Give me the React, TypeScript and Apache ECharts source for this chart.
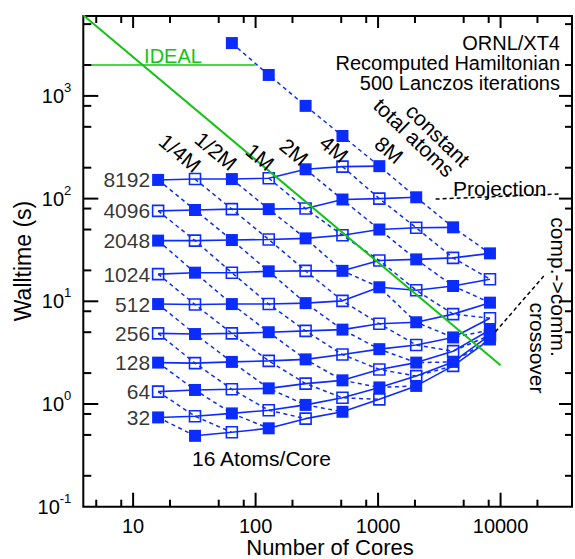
import { useEffect, useRef } from 'react';
import * as echarts from 'echarts';

const FONT = '"Liberation Sans", Arial, Helvetica, sans-serif';
const BLUE = '#0b2cff';
const GREEN = '#14c414';

// Number of cores (x) and atoms per core for each constant-atoms/core row
const cores = [16, 32, 64, 128, 256, 512, 1024, 2048, 4096, 8192];
const rowAtoms = [8192, 4096, 2048, 1024, 512, 256, 128, 64, 32, 16];
const rowFirstCore = [16, 16, 16, 16, 16, 16, 16, 16, 16, 32];

// Walltime (s) per row, starting at rowFirstCore
const t8192 = [152, 155, 155, 158, 193, 205, 207];
const t4096 = [76, 77.5, 79, 79, 80, 98, 100, 103];
const t2048 = [39, 39, 39.5, 40, 41, 44, 50, 52, 52.5];
const t1024 = [18.4, 19, 19, 19.6, 19.8, 19.8, 25, 25.6, 26.5, 29.3];
const t512 = [9.4, 9.3, 9.4, 9.4, 9.6, 10.1, 13.7, 12.8, 14.1, 16.4];
const t256 = [4.87, 4.8, 4.87, 5.0, 5.15, 5.3, 6.05, 6.25, 7.5, 9.7];
const t128 = [2.53, 2.5, 2.57, 2.63, 2.72, 3.03, 3.42, 3.76, 4.45, 6.85];
const t64 = [1.32, 1.37, 1.39, 1.42, 1.58, 1.7, 2.17, 2.53, 3.27, 5.25];
const t32 = [0.74, 0.76, 0.81, 0.87, 0.98, 1.15, 1.45, 1.87, 2.57, 4.68];
const t16 = [0.49, 0.53, 0.58, 0.72, 0.84, 1.11, 1.5, 2.35, 4.25];
const rowTimes = [t8192, t4096, t2048, t1024, t512, t256, t128, t64, t32, t16];

// 8M constant-total-atoms extension (larger atoms/core)
const extCores = [64, 128, 256, 512];
const extTimes = [3270, 1600, 800, 407];
const extTotalAtoms = 8388608;

// Ideal scaling line and annotation lines
const idealX = [3.92, 10000];
const idealY = [6100, 2.39];
const idealRefX = [3.92, 100];
const idealRefY = [2000, 2000];
const projX = [2950, 30800];
const projY = [99, 111];
const crossX = [9080, 22500];
const crossY = [5.05, 17.6];

// Axis extents and ticks
const xMin = 3.92;
const xMax = 38300;
const yMin = 0.1;
const yMax = 6000;
const xMajor = [10, 100, 1000, 10000];
const xMinor = [5, 8, 20, 50, 80, 200, 500, 800, 2000, 5000, 8000, 20000];
const yMajor = [1, 10, 100, 1000];
const yMinor = [0.2, 0.5, 0.8, 2, 5, 8, 20, 50, 80, 200, 500, 800, 2000, 5000];

const totalLabels = ['1/4M', '1/2M', '1M', '2M', '4M', '8M'];
const infoLines = ['ORNL/XT4', 'Recomputed Hamiltonian', '500 Lanczos iterations'];

const isPow10 = (v: number) => {
  const l = Math.log10(v);
  return Math.abs(l - Math.round(l)) < 1e-6;
};

export default function App() {
  const ref = useRef<HTMLDivElement>(null);
  useEffect(() => {
    const chart = echarts.init(ref.current!, null, { renderer: 'svg' });

    const rows = rowAtoms.map((atoms, i) => {
      const s = cores.indexOf(rowFirstCore[i]);
      return { atoms, pts: rowTimes[i].map((t, j) => [cores[s + j], t]) };
    });

    const diag = new Map<number, number[][]>();
    const addPt = (k: number, p: number[]) => {
      if (!diag.has(k)) diag.set(k, []);
      diag.get(k)!.push(p);
    };
    rows.forEach((r) =>
      r.pts.forEach(([c, t]) => addPt(Math.round(Math.log2(r.atoms * c)), [c, t]))
    );
    extCores.forEach((c, i) => addPt(Math.round(Math.log2(extTotalAtoms)), [c, extTimes[i]]));

    const rowSeries = rows.map((r) => ({
      type: 'line',
      data: r.pts,
      symbol: 'none',
      silent: true,
      z: 2,
      lineStyle: { color: BLUE, width: 1.6 },
    }));

    const diagSeries: any[] = [];
    Array.from(diag.keys())
      .sort((a, b) => a - b)
      .forEach((k) => {
        const pts = diag.get(k)!.slice().sort((a, b) => a[0] - b[0]);
        const filled = k % 2 === 1;
        diagSeries.push({
          type: 'line',
          data: pts,
          symbol: 'rect',
          symbolSize: filled ? 12 : 11,
          showSymbol: true,
          silent: true,
          z: 3,
          lineStyle: { color: BLUE, width: 1.5, type: [4, 3.5] },
          itemStyle: filled
            ? { color: BLUE, borderWidth: 0 }
            : { color: 'rgba(255,255,255,0)', borderColor: BLUE, borderWidth: 1.6 },
        });
      });

    const labelSeries = {
      type: 'scatter',
      silent: true,
      z: 4,
      symbol: 'rect',
      symbolSize: 12,
      itemStyle: { color: 'rgba(0,0,0,0)' },
      data: rows
        .filter((r) => r.pts[0][0] === 16)
        .map((r) => [r.pts[0][0], r.pts[0][1], r.atoms]),
      label: {
        show: true,
        position: 'left',
        distance: 2,
        formatter: (p: any) => String(p.value[2]),
        color: '#000',
        fontSize: 21,
        fontFamily: FONT,
      },
    };

    const tickStyle = { stroke: '#000', lineWidth: 2 };
    const xTickSeries = {
      type: 'custom',
      silent: true,
      z: 10,
      data: [...xMajor.map((v) => [v, 14]), ...xMinor.map((v) => [v, 7])],
      renderItem: (params: any, api: any) => {
        const cs = params.coordSys;
        const px = api.coord([api.value(0), 1])[0];
        const len = api.value(1);
        const bottom = cs.y + cs.height;
        return {
          type: 'group',
          children: [
            { type: 'line', shape: { x1: px, y1: bottom, x2: px, y2: bottom - len }, style: tickStyle },
            { type: 'line', shape: { x1: px, y1: cs.y, x2: px, y2: cs.y + (len > 10 ? 12 : 7) }, style: tickStyle },
          ],
        };
      },
    };
    const yTickSeries = {
      type: 'custom',
      silent: true,
      z: 10,
      encode: { x: 0, y: 1 },
      data: [...yMajor.map((v) => [10, v, 15]), ...yMinor.map((v) => [10, v, 8])],
      renderItem: (params: any, api: any) => {
        const cs = params.coordSys;
        const py = api.coord([10, api.value(1)])[1];
        const len = api.value(2);
        const right = cs.x + cs.width;
        return {
          type: 'group',
          children: [
            { type: 'line', shape: { x1: cs.x, y1: py, x2: cs.x + len, y2: py }, style: tickStyle },
            { type: 'line', shape: { x1: right, y1: py, x2: right - (len > 10 ? 13 : 7), y2: py }, style: tickStyle },
          ],
        };
      },
    };

    const simpleLine = (xs: number[], ys: number[], color: string, width: number, dashed: boolean, z: number) => ({
      type: 'line',
      data: xs.map((x, i) => [x, ys[i]]),
      symbol: 'none',
      silent: true,
      z,
      lineStyle: { color, width, type: dashed ? [4, 3] : 'solid' },
    });

    const txt = (text: string, x: number, y: number, opts: any = {}) => ({
      type: 'text',
      x,
      y,
      rotation: opts.rotation || 0,
      z: 50,
      silent: true,
      style: {
        text,
        fill: opts.fill || '#000',
        font: `${opts.size || 21}px ${FONT}`,
        align: opts.align || 'center',
        textAlign: opts.align || 'center',
        verticalAlign: 'middle',
        textVerticalAlign: 'middle',
      },
    });

    const deg = Math.PI / 180;
    const diagLabelPos = [
      [180, 153],
      [216, 151],
      [260, 157],
      [294, 152],
      [334, 149],
      [389, 150],
    ];

    const graphics: any[] = [
      txt('IDEAL', 173, 55.5, { fill: GREEN, size: 20 }),
      ...infoLines.map((t, i) => txt(t, 560, 42.5 + i * 20, { align: 'right', size: 20 })),
      txt('constant', 438, 135, { rotation: -44 * deg }),
      txt('total atoms', 414, 137.5, { rotation: -44 * deg }),
      txt('Projection', 453, 188, { align: 'left' }),
      txt('comp.->comm.', 558, 287, { rotation: -90 * deg }),
      txt('crossover', 537, 348, { rotation: -90 * deg }),
      txt('16 Atoms/Core', 192, 458, { align: 'left' }),
      txt('Walltime (s)', 23, 261, { rotation: 90 * deg, size: 23 }),
      txt('Number of Cores', 330, 547.5, { size: 22 }),
      ...totalLabels.map((t, i) => txt(t, diagLabelPos[i][0], diagLabelPos[i][1], { rotation: -40 * deg })),
    ];

    chart.setOption({
      animation: false,
      textStyle: { fontFamily: FONT },
      grid: {
        left: 83.3,
        top: 16,
        width: 490,
        height: 490.7,
        show: true,
        borderColor: '#000',
        borderWidth: 2,
        backgroundColor: 'transparent',
        containLabel: false,
      },
      xAxis: {
        type: 'log',
        logBase: 10,
        min: xMin,
        max: xMax,
        axisLine: { show: false },
        axisTick: { show: false },
        splitLine: { show: false },
        axisLabel: {
          margin: 9,
          color: '#000',
          fontSize: 20,
          fontFamily: FONT,
          formatter: (v: number) => (isPow10(v) ? String(Math.round(v)) : ''),
        },
      },
      yAxis: {
        type: 'log',
        logBase: 10,
        min: yMin,
        max: yMax,
        axisLine: { show: false },
        axisTick: { show: false },
        splitLine: { show: false },
        axisLabel: {
          margin: 12,
          color: '#000',
          formatter: (v: number) => {
            if (!isPow10(v)) return '';
            return `{b|10}{s|${Math.round(Math.log10(v))}}`;
          },
          rich: {
            b: { fontSize: 20, lineHeight: 30, fontFamily: FONT, color: '#000' },
            s: { fontSize: 13, lineHeight: 14, verticalAlign: 'top', fontFamily: FONT, color: '#000' },
          },
        },
      },
      series: [
        ...rowSeries,
        ...diagSeries,
        labelSeries,
        simpleLine(idealX, idealY, GREEN, 2, false, 6),
        simpleLine(idealRefX, idealRefY, GREEN, 1.6, false, 6),
        simpleLine(projX, projY, '#000', 1.5, true, 6),
        simpleLine(crossX, crossY, '#000', 1.5, true, 6),
        xTickSeries,
        yTickSeries,
      ],
      graphic: { elements: graphics },
    });

    return () => chart.dispose();
  }, []);

  return (
    <div
      ref={ref}
      style={{ position: 'absolute', left: 0, top: 0, width: 575, height: 559, background: '#fff' }}
    />
  );
}
